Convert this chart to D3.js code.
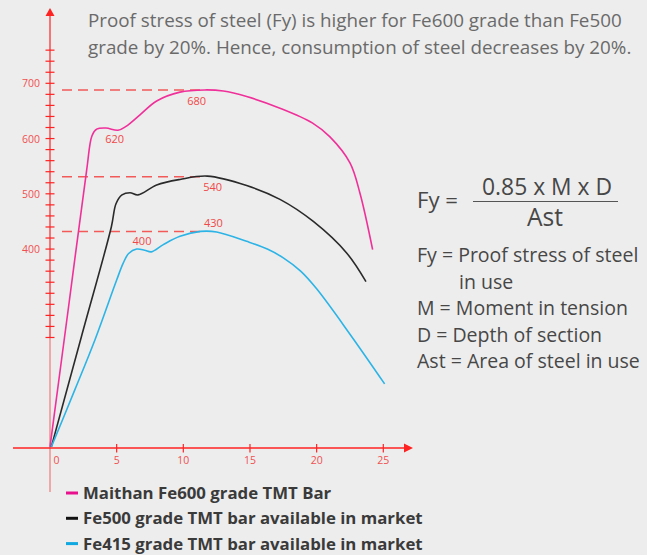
<!DOCTYPE html>
<html>
<head>
<meta charset="utf-8">
<script src="https://cdn.jsdelivr.net/npm/d3@7"></script>
<style>
  html, body { margin: 0; padding: 0; background: #ededed; }
  svg { display: block; font-family: "Open Sans", Lato, sans-serif; }
</style>
</head>
<body>
<svg id="chart" width="647" height="555"></svg>
<script>
// Strain (x) and stress (y)
var fe600X = [0, 1.4, 2.75, 3.15, 3.5, 4.2, 5.1, 5.7, 6.75, 8, 9.75, 11.6, 13, 14.75, 17.25, 19.7, 21, 22.5, 23.25, 24.2];
var fe600Y = [42, 297, 543, 605, 617, 619, 615, 622, 643, 668, 684, 688, 686, 676, 655, 628, 603, 556, 501, 399];

var fe500X = [0.1, 2.35, 4.6, 4.95, 5.4, 6.0, 6.6, 8, 9.75, 11.8, 14.75, 17.25, 19.75, 22.25, 23.7];
var fe500Y = [42, 241, 440, 482, 498, 502, 498, 516, 526, 532, 515, 490, 450, 393, 341];

var fe415X = [0.1, 1.875, 3.375, 5, 5.5, 5.9, 6.5, 7.1, 7.6, 8.5, 9.75, 11.3, 12.5, 14.75, 16.3, 17.5, 18.8, 20, 22.5, 25.1];
var fe415Y = [42, 146, 236, 344, 375, 392, 400, 398, 395, 408, 423, 432, 431, 414, 400, 384, 360, 328, 246, 156];

var seriesNames = ["Maithan Fe600 grade TMT Bar", "Fe500 grade TMT bar available in market", "Fe415 grade TMT bar available in market"];
var seriesColors = ["#f0309a", "#2a2a2a", "#2cb4e6"];

// dashed guide lines and their labels
var guideValues = [688, 531, 432];
var markLabels = ["680", "620", "540", "430", "400"];
var markX = [11, 4.85, 12.2, 12.25, 6.9];
var markY = [661, 592, 505, 440, 408];

var xTicks = [5, 10, 15, 20, 25];
var yLabels = [400, 500, 600, 700];

var titleLines = ["Proof stress of steel (Fy) is higher for Fe600 grade than Fe500",
                  "grade by 20%. Hence, consumption of steel decreases by 20%."];
var defLines = ["Fy = Proof stress of steel", "in use", "M = Moment in tension", "D = Depth of section", "Ast = Area of steel in use"];

var svg = d3.select("#chart");
var red = "#ff2222";

var x = d3.scaleLinear().domain([0, 25]).range([50, 383.3]);
var y = d3.scaleLinear().domain([40, 700]).range([448, 83.3]);

//Scale font size of a text group so one reference line gets the wanted width
function fitGroup(sel, index, width) {
    let node = sel.nodes()[index];
    let fs = +node.getAttribute("font-size");
    let size = fs * width / node.getComputedTextLength();
    sel.attr("font-size", size);
}

//Title text
let title = svg.selectAll(".title").data(titleLines).enter().append("text")
    .attr("x", 88).attr("y", (d, i) => 27 + i * 27)
    .attr("font-size", 18).attr("fill", "#6a6a6a")
    .text(d => d);
fitGroup(title, 0, 534);

//Dashed guides
svg.selectAll(".guide").data(guideValues).enter().append("line")
    .attr("x1", 62).attr("x2", 205)
    .attr("y1", d => y(d)).attr("y2", d => y(d))
    .attr("stroke", "#f25a5a").attr("stroke-width", 1.5)
    .attr("stroke-dasharray", "10,6");

//Y axis line (lighter below the ticks)
svg.append("line").attr("x1", 50).attr("x2", 50).attr("y1", 14).attr("y2", y(240))
    .attr("stroke", red).attr("stroke-width", 1.2);
svg.append("line").attr("x1", 50).attr("x2", 50).attr("y1", y(240)).attr("y2", 492)
    .attr("stroke", "#f07a7a").attr("stroke-width", 1.2);
svg.append("path").attr("d", "M50,8 L54.5,16 L45.5,16 Z").attr("fill", red);

//Y ticks every 20
var yTickVals = d3.range(240, 761, 20);
svg.selectAll(".ytick").data(yTickVals).enter().append("line")
    .attr("x1", 45.5).attr("x2", 54.5)
    .attr("y1", d => y(d)).attr("y2", d => y(d))
    .attr("stroke", red).attr("stroke-width", 1.2);

svg.selectAll(".ylab").data(yLabels).enter().append("text")
    .attr("x", 40).attr("y", d => y(d) + 4)
    .attr("text-anchor", "end").attr("font-size", 10.5).attr("fill", "#f05050")
    .text(d => d);

//X axis
svg.append("line").attr("x1", 13).attr("x2", 406).attr("y1", 448).attr("y2", 448)
    .attr("stroke", red).attr("stroke-width", 1.3);
svg.append("path").attr("d", "M413,448 L404,443.5 L404,452.5 Z").attr("fill", red);

svg.selectAll(".xtick").data(xTicks).enter().append("line")
    .attr("x1", d => x(d)).attr("x2", d => x(d))
    .attr("y1", 444).attr("y2", 452.5)
    .attr("stroke", red).attr("stroke-width", 1.2);

svg.selectAll(".xlab").data([0].concat(xTicks)).enter().append("text")
    .attr("x", d => d === 0 ? x(d) + 6.5 : x(d)).attr("y", 464)
    .attr("text-anchor", "middle").attr("font-size", 10.5).attr("fill", "#f05050")
    .text(d => d);

//Curves
var line = d3.line()
    .x(d => x(d[0])).y(d => y(d[1]))
    .curve(d3.curveCatmullRom.alpha(0.5));

var series = [d3.zip(fe600X, fe600Y), d3.zip(fe500X, fe500Y), d3.zip(fe415X, fe415Y)];

svg.selectAll(".curve").data(series).enter().append("path")
    .attr("d", line)
    .attr("fill", "none")
    .attr("stroke", (d, i) => seriesColors[i])
    .attr("stroke-width", 1.6);

//Value labels on the curves
svg.selectAll(".mark").data(markLabels).enter().append("text")
    .attr("x", (d, i) => x(markX[i])).attr("y", (d, i) => y(markY[i]))
    .attr("text-anchor", "middle").attr("font-size", 11).attr("fill", "#f04848")
    .text(d => d);

//Legend
var legend = svg.selectAll(".legend").data(seriesNames).enter().append("g")
    .attr("transform", (d, i) => "translate(0," + (493 + i * 25.3) + ")");
legend.append("line").attr("x1", 66).attr("x2", 78).attr("y1", 0).attr("y2", 0)
    .attr("stroke", (d, i) => ["#e8108c", "#111", "#10a8e0"][i]).attr("stroke-width", 3);
let legendText = legend.append("text").attr("x", 83).attr("y", 6)
    .attr("font-size", 17).attr("font-weight", "bold").attr("fill", "#3a3a3a")
    .text(d => d);
fitGroup(legendText, 1, 340);

//Formula
var formula = svg.append("g").attr("fill", "#474747");
let fy = formula.append("text").attr("x", 417).attr("y", 208).attr("font-size", 21).text("Fy =");
fitGroup(fy, 0, 41);
let num = formula.append("text").attr("x", 547).attr("y", 195).attr("font-size", 20)
    .attr("text-anchor", "middle").text("0.85 x M x D");
fitGroup(num, 0, 130);
formula.append("line").attr("x1", 473).attr("x2", 618).attr("y1", 201.5).attr("y2", 201.5)
    .attr("stroke", "#555").attr("stroke-width", 1.2);
let den = formula.append("text").attr("x", 545).attr("y", 226).attr("font-size", 20)
    .attr("text-anchor", "middle").text("Ast");
fitGroup(den, 0, 36);

let defs = formula.selectAll(".def").data(defLines).enter().append("text")
    .attr("x", (d, i) => i === 1 ? 459 : 417)
    .attr("y", (d, i) => 262 + i * 26.6)
    .attr("font-size", 18)
    .text(d => d);
fitGroup(defs, 4, 223);
</script>
</body>
</html>
